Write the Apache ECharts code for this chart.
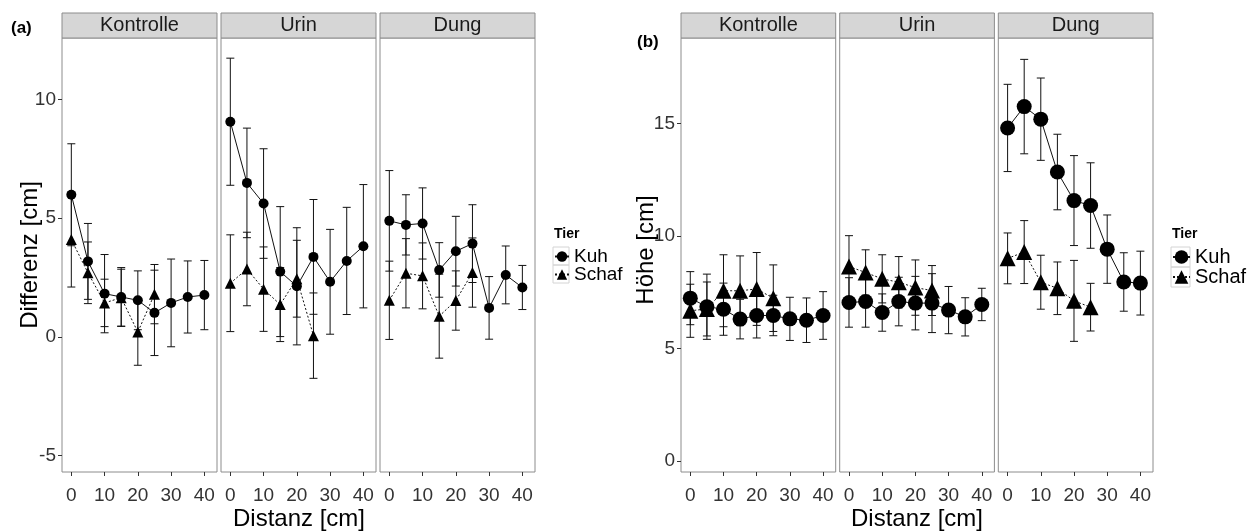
<!DOCTYPE html>
<html><head><meta charset="utf-8">
<script src="https://cdn.jsdelivr.net/npm/echarts@6/dist/echarts.min.js"></script>
<style>html,body{margin:0;padding:0;background:#fff}#c{width:1252px;height:531px}</style>
</head><body><div id="c"></div>
<script>
// ---------------- data ----------------
const facets = ['Kontrolle', 'Urin', 'Dung'];
const distKuh = [0, 5, 10, 15, 20, 25, 30, 35, 40];
const distSchaf = [0, 5, 10, 15, 20, 25];
const xTicks = [0, 10, 20, 30, 40];
const yTicksA = [-5, 0, 5, 10];
const yTicksB = [0, 5, 10, 15];

// (a) Differenz [cm]  mean / sd
const diffKuhKontrolle   = [5.99, 3.18, 1.82, 1.68, 1.54, 1.01, 1.43, 1.68, 1.76];
const diffKuhKontrolleSD = [2.15, 1.60, 1.65, 1.24, 1.24, 1.80, 1.85, 1.52, 1.46];
const diffKuhUrin        = [9.07, 6.49, 5.62, 2.75, 2.13, 3.37, 2.32, 3.20, 3.82];
const diffKuhUrinSD      = [2.68, 2.31, 2.31, 2.74, 2.47, 2.42, 2.21, 2.26, 2.60];
const diffKuhDung        = [4.89, 4.72, 4.78, 2.82, 3.61, 3.93, 1.22, 2.61, 2.08];
const diffKuhDungSD      = [2.12, 1.27, 1.50, 1.15, 1.47, 1.64, 1.32, 1.22, 0.93];
const diffSchafKontrolle   = [4.10, 2.70, 1.43, 1.65, 0.20, 1.80];
const diffSchafKontrolleSD = [2.00, 1.30, 1.00, 1.20, 1.40, 1.25];
const diffSchafUrin        = [2.26, 2.86, 2.01, 1.36, 2.45, 0.05];
const diffSchafUrinSD      = [2.04, 1.55, 1.78, 1.56, 1.62, 1.80];
const diffSchafDung        = [1.54, 2.68, 2.57, 0.87, 1.53, 2.71];
const diffSchafDungSD      = [1.65, 1.46, 1.39, 1.77, 1.25, 1.46];

// (b) Höhe [cm]  mean / sd
const hoeheKuhKontrolle   = [7.23, 6.85, 6.74, 6.30, 6.46, 6.46, 6.31, 6.25, 6.46];
const hoeheKuhKontrolleSD = [1.18, 1.45, 1.16, 0.88, 1.00, 0.90, 0.96, 0.99, 1.06];
const hoeheKuhUrin        = [7.04, 7.08, 6.59, 7.08, 7.01, 7.01, 6.70, 6.40, 6.95];
const hoeheKuhUrinSD      = [1.10, 1.14, 0.83, 1.08, 1.19, 1.31, 1.05, 0.85, 0.72];
const hoeheKuhDung        = [14.80, 15.75, 15.19, 12.84, 11.57, 11.35, 9.41, 7.95, 7.90];
const hoeheKuhDungSD      = [1.94, 2.10, 1.83, 1.68, 2.00, 1.90, 1.52, 1.30, 1.42];
const hoeheSchafKontrolle   = [6.67, 6.75, 7.56, 7.56, 7.64, 7.23];
const hoeheSchafKontrolleSD = [1.18, 1.20, 1.60, 1.55, 1.62, 1.48];
const hoeheSchafUrin        = [8.64, 8.37, 8.09, 7.94, 7.70, 7.57];
const hoeheSchafUrinSD      = [1.37, 1.01, 1.07, 1.14, 1.23, 1.11];
const hoeheSchafDung        = [9.00, 9.28, 7.94, 7.67, 7.11, 6.83];
const hoeheSchafDungSD      = [1.13, 1.40, 1.20, 1.17, 1.80, 1.06];

// ---------------- layout ----------------
const FONT = 'Liberation Sans, Arial, sans-serif';
const panels = [
  { lefts: [62, 221, 380], width: 155, ymin: -5.7, ymax: 12.6, yTicks: yTicksA,
    kuh: [diffKuhKontrolle, diffKuhUrin, diffKuhDung], kuhSD: [diffKuhKontrolleSD, diffKuhUrinSD, diffKuhDungSD],
    schaf: [diffSchafKontrolle, diffSchafUrin, diffSchafDung], schafSD: [diffSchafKontrolleSD, diffSchafUrinSD, diffSchafDungSD],
    circ: 10, tri: 11, cap: 4 },
  { lefts: [681, 839.7, 998.3], width: 154.7, ymin: -0.5, ymax: 18.8, yTicks: yTicksB,
    kuh: [hoeheKuhKontrolle, hoeheKuhUrin, hoeheKuhDung], kuhSD: [hoeheKuhKontrolleSD, hoeheKuhUrinSD, hoeheKuhDungSD],
    schaf: [hoeheSchafKontrolle, hoeheSchafUrin, hoeheSchafDung], schafSD: [hoeheSchafKontrolleSD, hoeheSchafUrinSD, hoeheSchafDungSD],
    circ: 15, tri: 16, cap: 4 }
];
const TOP = 38, HEIGHT = 434;

const grid = [], xAxis = [], yAxis = [], series = [], graphic = [];

function errRender(capHalf) {
  return function (params, api) {
    const x = api.value(0), lo = api.value(1), hi = api.value(2);
    const a = api.coord([x, lo]), b = api.coord([x, hi]);
    const st = { stroke: '#111', lineWidth: 1 };
    return { type: 'group', children: [
      { type: 'line', shape: { x1: a[0], y1: a[1], x2: b[0], y2: b[1] }, style: st },
      { type: 'line', shape: { x1: a[0] - capHalf, y1: a[1], x2: a[0] + capHalf, y2: a[1] }, style: st },
      { type: 'line', shape: { x1: b[0] - capHalf, y1: b[1], x2: b[0] + capHalf, y2: b[1] }, style: st }
    ]};
  };
}

let gi = 0;
panels.forEach((p, pi) => {
  facets.forEach((f, fi) => {
    grid.push({ left: p.lefts[fi], top: TOP, width: p.width, height: HEIGHT, show: true,
      borderColor: '#8c8c8c', borderWidth: 1, backgroundColor: '#fff', containLabel: false });
    xAxis.push({ type: 'value', gridIndex: gi, min: -2.8, max: 43.8, splitLine: { show: false },
      position: 'bottom',
      axisLine: { show: false, onZero: false },
      axisTick: { show: true, length: 4, lineStyle: { color: '#333' }, customValues: xTicks },
      axisLabel: { show: true, fontSize: 19, color: '#333', fontFamily: FONT, margin: 14, customValues: xTicks } });
    yAxis.push({ type: 'value', gridIndex: gi, min: p.ymin, max: p.ymax, splitLine: { show: false },
      position: 'left',
      axisLine: { show: false, onZero: false },
      axisTick: { show: fi === 0, length: 4, lineStyle: { color: '#333' }, customValues: p.yTicks },
      axisLabel: { show: fi === 0, fontSize: 19, color: '#333', fontFamily: FONT, margin: 6, customValues: p.yTicks } });

    const kuh = p.kuh[fi], kuhSD = p.kuhSD[fi], schaf = p.schaf[fi], schafSD = p.schafSD[fi];
    series.push({ type: 'custom', name: 'errKuh', xAxisIndex: gi, yAxisIndex: gi, renderItem: errRender(p.cap),
      data: distKuh.map((d, i) => [d, kuh[i] - kuhSD[i], kuh[i] + kuhSD[i]]), z: 2, silent: true });
    series.push({ type: 'custom', name: 'errSchaf', xAxisIndex: gi, yAxisIndex: gi, renderItem: errRender(p.cap),
      data: distSchaf.map((d, i) => [d, schaf[i] - schafSD[i], schaf[i] + schafSD[i]]), z: 2, silent: true });
    series.push({ type: 'line', name: 'Schaf', xAxisIndex: gi, yAxisIndex: gi, symbol: 'triangle', symbolSize: p.tri,
      data: distSchaf.map((d, i) => [d, schaf[i]]), lineStyle: { color: '#111', width: 1, type: [2, 2] },
      itemStyle: { color: '#000' }, z: 3, animation: false });
    series.push({ type: 'line', name: 'Kuh', xAxisIndex: gi, yAxisIndex: gi, symbol: 'circle', symbolSize: p.circ,
      data: distKuh.map((d, i) => [d, kuh[i]]), lineStyle: { color: '#111', width: 1 },
      itemStyle: { color: '#000' }, z: 4, animation: false });

    // strip
    graphic.push({ type: 'rect', shape: { x: p.lefts[fi], y: 13, width: p.width, height: 25 },
      style: { fill: '#d6d6d6', stroke: '#8c8c8c', lineWidth: 1 } });
    graphic.push({ type: 'text', x: p.lefts[fi] + p.width / 2, y: 25.5,
      style: { text: f, fontSize: 20, fontFamily: FONT, fill: '#1a1a1a', align: 'center', verticalAlign: 'middle' } });
    gi++;
  });
});

// axis titles, panel tags
graphic.push({ type: 'text', x: 30, y: 255, rotation: Math.PI / 2,
  style: { text: 'Differenz [cm]', fontSize: 24, fontFamily: FONT, fill: '#000', align: 'center', verticalAlign: 'middle' } });
graphic.push({ type: 'text', x: 299, y: 519,
  style: { text: 'Distanz [cm]', fontSize: 24, fontFamily: FONT, fill: '#000', align: 'center', verticalAlign: 'middle' } });
graphic.push({ type: 'text', x: 646, y: 250, rotation: Math.PI / 2,
  style: { text: 'Höhe [cm]', fontSize: 24, fontFamily: FONT, fill: '#000', align: 'center', verticalAlign: 'middle' } });
graphic.push({ type: 'text', x: 917, y: 519,
  style: { text: 'Distanz [cm]', fontSize: 24, fontFamily: FONT, fill: '#000', align: 'center', verticalAlign: 'middle' } });
graphic.push({ type: 'text', x: 11, y: 28,
  style: { text: '(a)', fontSize: 17, fontWeight: 'bold', fontFamily: FONT, fill: '#000', verticalAlign: 'middle' } });
graphic.push({ type: 'text', x: 637, y: 42,
  style: { text: '(b)', fontSize: 17, fontWeight: 'bold', fontFamily: FONT, fill: '#000', verticalAlign: 'middle' } });
// legend titles
graphic.push({ type: 'text', x: 554, y: 234,
  style: { text: 'Tier', fontSize: 14, fontWeight: 'bold', fontFamily: FONT, fill: '#000', verticalAlign: 'middle' } });
graphic.push({ type: 'text', x: 1172, y: 234,
  style: { text: 'Tier', fontSize: 14, fontWeight: 'bold', fontFamily: FONT, fill: '#000', verticalAlign: 'middle' } });
// legend key boxes
[[553, 247, 16, 18], [553, 265, 16, 18], [1171, 247, 19, 20], [1171, 267, 19, 20]].forEach(r => {
  graphic.push({ type: 'rect', shape: { x: r[0], y: r[1], width: r[2], height: r[3] },
    style: { fill: 'none', stroke: '#d4d4d4', lineWidth: 1 }, z: -1 });
});

function legendItem(name, left, top, iw, ih, fs, lh) {
  return { data: [name], orient: 'vertical', left: left, top: top, padding: 0, itemWidth: iw, itemHeight: ih,
    textStyle: { fontSize: fs, lineHeight: lh, color: '#000', fontFamily: FONT }, selectedMode: false, itemGap: 0 };
}

const chart = echarts.init(document.getElementById('c'), null, { renderer: 'canvas' });
chart.setOption({
  animation: false,
  backgroundColor: '#fff',
  textStyle: { fontFamily: FONT },
  grid, xAxis, yAxis, series, graphic,
  legend: [
    legendItem('Kuh', 554, 247, 14, 13, 19, 18),
    legendItem('Schaf', 554, 265, 14, 13, 19, 18),
    legendItem('Kuh', 1172, 247, 17, 17, 20, 20),
    legendItem('Schaf', 1172, 267, 17, 17, 20, 20)
  ]
});
</script></body></html>
